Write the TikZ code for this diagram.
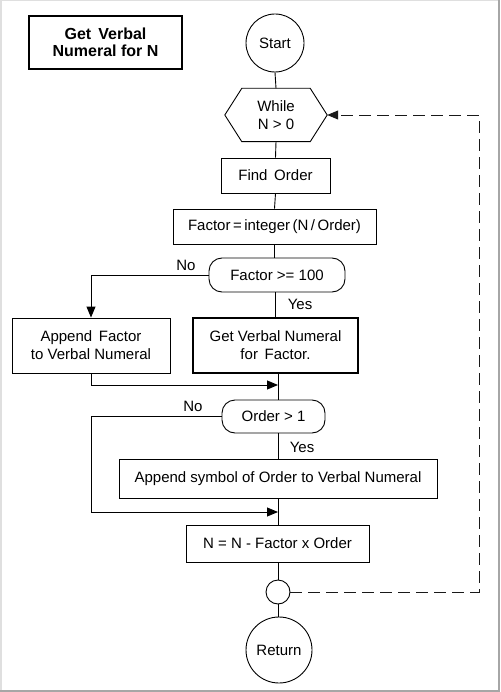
\documentclass[tikz,border=0pt]{standalone}
\usepackage{fontspec}
\setmainfont{Liberation Sans}
\usetikzlibrary{arrows.meta}
\begin{document}
\begin{tikzpicture}[x=1pt,y=-1pt,
  every node/.style={font=\fontsize{15}{18}\selectfont, align=center, inner sep=1pt},
  box/.style={draw, line width=0.9pt, rectangle},
  thickbox/.style={draw, line width=2pt, rectangle},
  dec/.style={draw, line width=0.9pt, rectangle, rounded corners=13pt},
  circ/.style={draw, line width=0.9pt, circle},
  lab/.style={font=\fontsize{15}{18}\selectfont},
  conn/.style={line width=0.9pt},
  arr/.style={line width=0.9pt, -{Triangle[length=11pt,width=9pt]}},
  loop/.style={line width=0.9pt, dash pattern=on 12pt off 6pt, -{Triangle[length=11pt,width=9pt]}}
]
\useasboundingbox (0,0) rectangle (500,692);
\draw[gray!25, line width=1.5pt] (0.75,691) -- (0.75,0.75) -- (499,0.75);
\draw[gray!70, line width=2pt] (498.5,0) -- (498.5,690.5) -- (0,690.5);

\node[thickbox, minimum width=153pt, minimum height=53pt, font=\fontsize{16}{17}\selectfont\bfseries] (title) at (105.5,42.5) {Get\, Verbal\\Numeral for N};
\node[circ, minimum size=58pt] (start) at (275,43) {Start};
\node[minimum width=102pt, minimum height=53pt] (while) at (276,115) {While\\N > 0};
\draw[line width=0.9pt] (while.west) -- ([xshift=17pt]while.north west) -- ([xshift=-17pt]while.north east) -- (while.east) -- ([xshift=-17pt]while.south east) -- ([xshift=17pt]while.south west) -- cycle;
\node[box, minimum width=109pt, minimum height=35pt] (find) at (275.5,175.5) {Find\, Order};
\node[box, minimum width=203pt, minimum height=35pt] (factor) at (274.5,226.5) {Factor\,=\,integer\,(N\,/\,Order)};
\node[dec, minimum width=136pt, minimum height=34pt] (dec1) at (277,275) {Factor >= 100};
\node[box, minimum width=158pt, minimum height=55pt] (app1) at (91,345.5) {Append\, Factor\\to Verbal Numeral};
\node[thickbox, minimum width=165pt, minimum height=55pt] (getvn) at (275.5,345.5) {Get Verbal Numeral\\for\, Factor.};
\node[dec, minimum width=103pt, minimum height=33pt] (dec2) at (273.5,416.5) {Order > 1};
\node[box, minimum width=318pt, minimum height=39pt] (app2) at (278,478.5) {Append symbol of Order to Verbal Numeral};
\node[box, minimum width=183pt, minimum height=37pt] (nbox) at (277.5,543.5) {N = N - Factor x Order};
\node[circ, minimum size=24pt, inner sep=0pt] (small) at (278,592) {};
\node[circ, minimum size=66pt] (ret) at (279,650) {Return};

\node[lab] (no1) at (186,265) {No};
\node[lab] (yes1) at (300,304) {Yes};
\node[lab] (no2) at (193,406) {No};
\node[lab] (yes2) at (302,447) {Yes};

\coordinate (m1) at (278,385);
\coordinate (m2) at (278,512);
\coordinate (d1) at (479,592);

\draw[conn] (start.south) -- (while.north);
\draw[conn] (while.south) -- (find.north);
\draw[conn] (find.south) -- (factor.north);
\draw[conn] (factor.south) -- (factor.south |- dec1.north);
\draw[arr] (dec1.west) -| (app1.north);
\draw[conn] (dec1.south -| getvn.north) -- (getvn.north);
\draw[arr] (app1.south) |- (m1);
\draw[conn] (getvn.south -| m1) -- (dec2.north -| m1);
\draw[arr] (dec2.west) -| (app1.south |- m2) -- (m2);
\draw[conn] (dec2.south -| app2.north) -- (app2.north);
\draw[conn] (app2.south) -- (app2.south |- nbox.north);
\draw[conn] (nbox.south -| small.north) -- (small.north);
\draw[conn] (small.south) -- (small.south |- ret.north);
\draw[loop, gray!20!black] (small.east) -- (d1) |- (while.east);
\end{tikzpicture}
\end{document}
